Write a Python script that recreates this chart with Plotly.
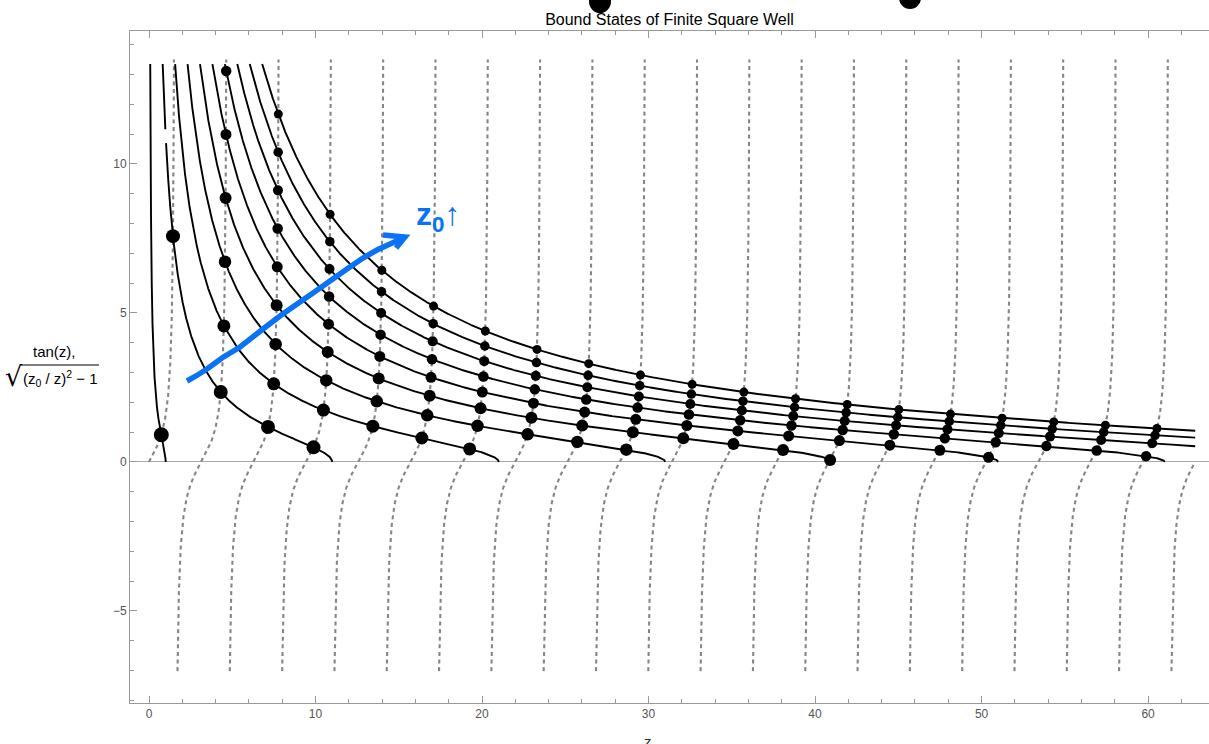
import numpy as np
import plotly.graph_objects as go

# ---------------- data ----------------
TITLE = "Bound States of Finite Square Well"
Z0_VALUES = [1, 11, 21, 31, 41, 51, 61, 71, 81, 91]      # well strengths z0
DOT_SIZES = [15, 14, 13, 12.5, 12, 11, 10.5, 10, 9.5, 9]  # marker size per z0
Z_MAX = 20 * np.pi                                        # plotted z range [0, 20*pi]
TAN_Y_LO, TAN_Y_HI = -7.02, 13.5                          # clip of tan(z)
CURVE_Y_HI = 13.35                                        # clip of sqrt((z0/z)^2-1)
X_TICKS = [0, 10, 20, 30, 40, 50, 60]
Y_TICKS = [-5, 0, 5, 10]

# ---------------- geometry helpers (pixel -> paper) ----------------
W, H = 1209, 744
PL, PR, PT, PB = 130, 1209, 31, 703
X_RANGE = [-1.141, 63.66]
Y_RANGE = [-8.09, 14.46]


def pxx(xp):
    return (xp - PL) / (PR - PL)


def pxy(yp):
    return (PB - yp) / (PB - PT)


fig = go.Figure()

# ---------------- tan(z), dashed gray ----------------
tz, ty = [], []
nbr = int(round(Z_MAX / np.pi))
for k in range(nbr + 1):
    lo = 0.0 if k == 0 else TAN_Y_LO
    hi = 0.0 if k == nbr else TAN_Y_HI
    yy = np.linspace(lo, hi, 500)
    zz = k * np.pi + np.arctan(yy)
    tz += list(zz) + [None]
    ty += list(yy) + [None]
fig.add_trace(go.Scatter(x=tz, y=ty, mode="lines",
                         line=dict(color="#858585", width=2.1, dash="4px,3.6px"),
                         hoverinfo="skip", showlegend=False))

# ---------------- sqrt((z0/z)^2-1), solid black ----------------
for z0 in Z0_VALUES:
    z_start = z0 / np.sqrt(1 + CURVE_Y_HI ** 2)
    z_end = min(z0, Z_MAX)
    ylin = np.linspace(0, CURVE_Y_HI, 600)
    zc = np.concatenate([z0 / np.sqrt(1 + ylin ** 2), np.linspace(z_start, z_end, 1500)])
    zc = np.unique(zc[(zc >= z_start) & (zc <= z_end)])
    yc = np.sqrt(np.clip((z0 / zc) ** 2 - 1, 0, None)).astype(float)
    if z0 == 11:  # small break visible in the reference near the top
        yc = np.where((yc > 10.7) & (yc < 11.15), np.nan, yc)
    fig.add_trace(go.Scatter(x=zc, y=yc, mode="lines",
                             line=dict(color="black", width=1.9),
                             hoverinfo="skip", showlegend=False, connectgaps=False))


# ---------------- intersections (bound states) ----------------
def root(f, a, b):
    fa = f(a)
    for _ in range(100):
        m = 0.5 * (a + b)
        fm = f(m)
        if (fm > 0) == (fa > 0):
            a, fa = m, fm
        else:
            b = m
    return 0.5 * (a + b)


for z0, ds in zip(Z0_VALUES, DOT_SIZES):
    px_, py_ = [], []
    k = 0
    while k * np.pi < min(z0, Z_MAX):
        a = k * np.pi + 1e-9
        b = min(k * np.pi + np.pi / 2 - 1e-9, z0, Z_MAX)
        f = lambda z: np.tan(z) - np.sqrt(max((z0 / z) ** 2 - 1, 0))
        if f(a) < 0 < f(b):
            r = root(f, a, b)
            yv = np.tan(r)
            if yv <= CURVE_Y_HI + 0.05:
                px_.append(r)
                py_.append(yv)
        k += 1
    fig.add_trace(go.Scatter(x=px_, y=py_, mode="markers",
                             marker=dict(color="black", size=ds, line=dict(width=0)),
                             hoverinfo="skip", showlegend=False))

# ---------------- hand-drawn blue annotation ----------------
stroke = [(187, 381), (196, 376), (207, 369), (222, 358), (240, 347), (263, 329),
          (280, 316), (300, 302), (313, 293), (330, 281), (347, 269), (363, 258),
          (377, 250), (390, 244), (405, 237)]
head = [(383, 235), (405, 237), (396, 248)]


def path_of(pts):
    return "M " + " L ".join(f"{pxx(x):.5f},{pxy(y):.5f}" for x, y in pts)


BLUE = "#0a72f5"
shapes = [
    dict(type="path", xref="paper", yref="paper", path=path_of(stroke),
         line=dict(color=BLUE, width=5.5)),
    dict(type="path", xref="paper", yref="paper", path=path_of(head),
         line=dict(color=BLUE, width=5.5)),
    # cut-off black marks at top edge
    dict(type="circle", xref="paper", yref="paper",
         x0=pxx(589), x1=pxx(611), y0=pxy(-10), y1=pxy(13),
         fillcolor="black", line=dict(width=0)),
    dict(type="circle", xref="paper", yref="paper",
         x0=pxx(899), x1=pxx(921), y0=pxy(-13), y1=pxy(9),
         fillcolor="black", line=dict(width=0)),
    # overline of the square root in the y label
    dict(type="line", xref="paper", yref="paper",
         x0=pxx(21), x1=pxx(99), y0=pxy(365), y1=pxy(365),
         line=dict(color="black", width=1.2)),
]


def note(text, x, y, size, color="black", family="Liberation Sans", yanchor="middle"):
    return dict(text=text, xref="paper", yref="paper", x=pxx(x), y=pxy(y),
                xanchor="center", yanchor=yanchor, showarrow=False,
                font=dict(family=family, size=size, color=color))


annotations = [
    note("<b>z<sub>0</sub>↑</b>", 438, 216, 32, BLUE),
    note("tan(z),", 54, 351, 15),
    note("√", 14, 377, 27, family="DejaVu Sans"),
    note("(z<sub>0</sub> / z)<sup>2</sup> − 1", 60, 379, 15),
    note("z", 648, 731, 15, "#333", yanchor="top"),
]

tickfont = dict(family="Liberation Sans", size=12, color="#555")
fig.update_layout(
    width=W, height=H,
    margin=dict(l=PL, r=W - PR, t=PT, b=H - PB, autoexpand=False),
    paper_bgcolor="white", plot_bgcolor="white",
    title=dict(text=TITLE, x=0.5, xref="paper", y=(H - 19) / H, yanchor="middle",
               font=dict(family="Liberation Sans", size=16, color="black")),
    shapes=shapes, annotations=annotations,
    xaxis=dict(range=X_RANGE, tickvals=X_TICKS, ticks="inside", ticklen=7,
               tickcolor="#999", showline=True, linecolor="#999", linewidth=1,
               mirror="ticks", showgrid=False, zeroline=False, tickfont=tickfont,
               automargin=False,
               minor=dict(dtick=2, tick0=0, ticks="inside", ticklen=4, tickcolor="#999")),
    yaxis=dict(range=Y_RANGE, tickvals=Y_TICKS, ticks="inside", ticklen=7,
               tickcolor="#999", showline=True, linecolor="#999", linewidth=1,
               mirror=False, showgrid=False, zeroline=True, zerolinecolor="#aaa",
               zerolinewidth=1, tickfont=tickfont, automargin=False,
               minor=dict(dtick=1, tick0=0, ticks="inside", ticklen=4, tickcolor="#999")),
)

fig.write_html("out.html", config={"displayModeBar": False},
               post_script="document.body.style.margin='0';document.body.style.overflow='hidden';")
